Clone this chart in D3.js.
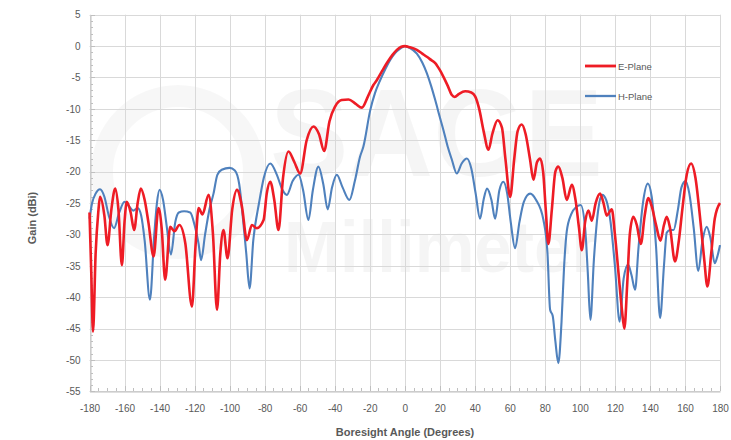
<!DOCTYPE html>
<html>
<head>
<meta charset="utf-8">
<script src="https://cdn.jsdelivr.net/npm/d3@7"></script>
<style>
  html, body { margin: 0; padding: 0; background: #fff; }
  svg { display: block; }
  text { font-family: "Liberation Sans Narrow", "Liberation Sans", Arial, sans-serif; }
</style>
</head>
<body>
<svg id="chart" width="731" height="440"></svg>
<script>
// Antenna gain patterns, E-plane and H-plane (dBi vs boresight angle)
const ePlaneAngle = [-180,-179,-178,-176.5,-175,-174,-171.5,-169.7,-167.5,-165.3,-163.5,-161.5,-160,-158.7,-156.5,-154.5,-152.5,-150.7,-148.5,-146.3,-143.4,-140.6,-138.8,-136.8,-133.9,-131.5,-128.7,-125.3,-121.5,-119.5,-117.7,-115.5,-112,-109.5,-107.2,-105.3,-103.5,-101.2,-98.5,-95.8,-93,-90.1,-87.3,-84.5,-80.6,-78.8,-76.8,-74.5,-72.1,-69.5,-66.4,-63,-59.7,-56,-52.1,-49,-46,-43,-39.7,-36,-32.1,-28,-24.5,-21,-17.9,-15.9,-13,-10.2,-7,-4.5,-2,0,3,6.9,10,12.6,15,17.4,20,22.1,24.5,26.9,28.5,31,34.5,38,40.2,42.5,45,47.8,50,53,55.5,57.5,60.2,62.5,64.5,66.8,69,71.5,73.5,75.5,77.3,79,80.5,82,84,86,87.7,90,92.5,95.4,97.5,99.5,101.1,103,104.9,106.8,109,111.5,113.5,115.3,118.2,120,122,124,125.4,127,128.5,130.5,132.5,134.8,137,139.1,141,143.5,146,148,149.6,151.5,154.3,156.5,158.5,161,163.5,166,168.5,171,172.8,175,177,180];
const ePlaneGain = [-26.5,-36,-45.5,-33,-26.5,-24,-27,-31.7,-26,-22.7,-26,-34.9,-28,-24.8,-26.5,-29.3,-25,-22.7,-24.5,-28.2,-33.5,-25.8,-29,-37.2,-28.8,-29.5,-28.5,-31.4,-41.5,-32,-25.8,-26.8,-23.7,-30,-42,-33,-29.3,-33.8,-26,-22.9,-25.5,-30.9,-28.5,-29,-27.7,-23.5,-21.6,-24.5,-29.3,-21,-16.8,-18.5,-20.3,-15,-12.8,-14,-16.7,-12,-9.6,-8.6,-8.5,-9.2,-9.8,-8,-6.2,-5.4,-4,-2.7,-1.4,-0.6,-0.1,0,-0.2,-0.6,-1.2,-1.7,-2.2,-2.7,-3.8,-4.9,-6.3,-7.8,-8.1,-7.6,-7.2,-7.4,-8,-10,-13.5,-16.5,-14,-11.8,-13,-18,-24,-18,-13.5,-12.5,-14,-18,-21.3,-18.5,-17.9,-20,-26,-31.5,-26,-20,-19.2,-21,-24.5,-22.1,-24.5,-29,-32.5,-28,-26.2,-27.8,-25,-23.5,-25,-27,-26,-30,-36,-42,-45,-38,-30,-27.2,-28.5,-31.5,-27,-24.2,-25.5,-28.5,-31,-28.5,-27.2,-29,-34.3,-31,-26,-20.5,-18.7,-21,-27,-34,-38.3,-33,-27.5,-25];

const hPlaneAngle = [-180,-178.5,-176.5,-174,-171.5,-169,-166,-163,-160,-157.5,-155,-152.5,-150.5,-148.5,-145.5,-143,-141.5,-140,-138,-136,-133.5,-131,-129,-126,-122.5,-120,-117.7,-116.3,-114,-111.5,-109.2,-107,-104.5,-100,-97,-94.5,-92.3,-90.5,-88.6,-86.5,-83.2,-80.5,-76.8,-73,-70,-67.3,-64,-60.6,-58,-55,-52.5,-49.3,-46.5,-44,-41.5,-38.8,-35.5,-31.6,-28.5,-25.5,-23.6,-19.7,-17,-14,-11,-8.3,-5.5,-2.6,0,3,6.9,10,12.6,15,17.4,20,22.1,24.5,26.9,29.7,32.5,35.5,38,40.5,43,45,47,49.5,51.6,54,56.3,58.5,60.5,63,65.5,68,71.6,75,79.2,81.5,83,84.5,86,87.7,89.5,91,92.5,95,98,100.5,103,104.5,106,108,110.5,112.8,115,117.5,120,122.7,125,127.5,129.5,131.5,133.5,136,138.8,141,143.5,145.8,148,149.6,151.5,153.5,156,158,160.3,162.5,165,167.6,170,172.4,174.5,177,178.5,180];
const hPlaneGain = [-27.5,-25,-23.5,-22.8,-24,-27,-29,-26.5,-24.8,-25.5,-26.2,-25.8,-27,-31,-40.4,-30,-25,-22.9,-24.5,-28.5,-33.2,-28,-26.5,-26.3,-26.5,-28.5,-31.5,-34.1,-30,-26,-23.5,-20.5,-19.7,-19.4,-19.8,-22,-27.7,-33,-38.6,-31,-25,-21,-18.7,-20.5,-22.8,-23.7,-21.5,-20.5,-23,-27.7,-23,-19.2,-22,-26,-22.5,-20.5,-22.5,-24.5,-21.5,-17.6,-16,-10.2,-7.5,-5.4,-3.6,-2.2,-1.1,-0.4,0,-0.3,-1.2,-2.6,-4.3,-6.3,-8.6,-11.3,-13.4,-16,-18.1,-20.3,-18.7,-17.9,-19.5,-23.5,-27.5,-24.5,-22.7,-24.5,-27.5,-23,-21.6,-23.5,-28,-32.2,-28,-24.8,-23.5,-24.5,-27.7,-33,-42,-43,-47,-50.5,-44,-35,-29.5,-26.8,-25.6,-25.3,-29,-36,-43.6,-34,-26,-23.7,-24.5,-28,-35,-43.9,-37,-34.8,-36.5,-38.8,-32,-25,-21.9,-24,-32,-43.3,-35,-29.7,-29.3,-29.3,-26,-22.5,-21.5,-23.5,-29,-35.8,-31,-28.8,-30.5,-34.6,-33.5,-31.7];

const xTicks = d3.range(-180, 181, 20);
const yTicks = d3.range(-55, 6, 5);
const seriesNames = ["E-Plane", "H-Plane"];
const seriesColors = ["#ee1c25", "#4f81bd"];

const svg = d3.select("#chart");
const x = d3.scaleLinear().domain([-180, 180]).range([89.5, 720]);
const y = d3.scaleLinear().domain([-55, 5]).range([391.4, 14.7]);

// faint company watermark behind the plot
svg.append("circle").attr("cx", 178).attr("cy", 172).attr("r", 76)
  .attr("fill", "none").attr("stroke", "#000").attr("stroke-opacity", 0.03).attr("stroke-width", 22);
const wmStyle = sel => sel.attr("fill", "#000").attr("fill-opacity", 0.04)
  .style("font-family", "Liberation Sans, Arial, sans-serif").attr("font-weight", "bold");
svg.append("text").call(wmStyle).attr("font-size", 50)
  .attr("transform", "translate(270,176) scale(2.35,2.5)").text("SAGE");
svg.append("text").call(wmStyle).attr("font-size", 40)
  .attr("transform", "translate(284,272) scale(1.68,1.8)").text("Millimeter");

// gridlines
const grid = svg.append("g").attr("stroke", "#d9d9d9").attr("stroke-width", 1);
grid.selectAll(".gh").data(yTicks).join("line")
  .attr("x1", x(-180)).attr("x2", x(180))
  .attr("y1", d => Math.round(y(d)) + 0.5).attr("y2", d => Math.round(y(d)) + 0.5);
grid.selectAll(".gv").data(xTicks).join("line")
  .attr("y1", y(5)).attr("y2", y(-55))
  .attr("x1", d => Math.round(x(d)) + 0.5).attr("x2", d => Math.round(x(d)) + 0.5);

// axes
const fmt = d => String(d);
const xAxis = d3.axisBottom(x).tickValues(xTicks).tickFormat(fmt).tickSize(0).tickPadding(13);
const yAxis = d3.axisLeft(y).tickValues(yTicks).tickFormat(fmt).tickSize(0).tickPadding(10);
const gx = svg.append("g").attr("transform", `translate(0,${Math.round(y(-55)) + 0.5})`).call(xAxis);
const gy = svg.append("g").attr("transform", `translate(${Math.round(x(-180)) + 0.5},0)`).call(yAxis);
[gx, gy].forEach(g => {
  g.select(".domain").attr("stroke", "#bfbfbf");
  g.selectAll("text").attr("fill", "#595959").attr("font-size", 10)
    .style("font-family", "Liberation Sans Narrow, Liberation Sans, Arial, sans-serif");
});

// minor ticks pointing into the plot
const minor = svg.append("g").attr("stroke", "#bfbfbf");
minor.selectAll(".mx").data(d3.range(-180, 181, 5)).join("line")
  .attr("x1", d => Math.round(x(d)) + 0.5).attr("x2", d => Math.round(x(d)) + 0.5)
  .attr("y1", Math.round(y(-55))).attr("y2", d => Math.round(y(-55)) - (d % 20 === 0 ? 5 : 3));
minor.selectAll(".my").data(d3.range(-55, 6, 1)).join("line")
  .attr("y1", d => Math.round(y(d)) + 0.5).attr("y2", d => Math.round(y(d)) + 0.5)
  .attr("x1", Math.round(x(-180)) + 1).attr("x2", d => Math.round(x(-180)) + (d % 5 === 0 ? 5 : 3));

// axis titles
svg.append("text").attr("x", 405).attr("y", 436).attr("text-anchor", "middle")
  .attr("font-size", 11).attr("font-weight", "bold").attr("fill", "#595959")
  .text("Boresight Angle (Degrees)");
svg.append("text").attr("transform", "translate(36,218) rotate(-90)").attr("text-anchor", "middle")
  .attr("font-size", 11).attr("font-weight", "bold").attr("fill", "#595959")
  .text("Gain (dBi)");

// pattern curves
const line = d3.line().x(d => x(d[0])).y(d => y(d[1])).curve(d3.curveMonotoneX);
const series = [
  { name: seriesNames[0], color: seriesColors[0], pts: d3.zip(ePlaneAngle, ePlaneGain), w: 2.6 },
  { name: seriesNames[1], color: seriesColors[1], pts: d3.zip(hPlaneAngle, hPlaneGain), w: 2.1 }
];
// blue drawn first so the red lies on top
[series[1], series[0]].forEach(s => {
  svg.append("path").datum(s.pts).attr("d", line)
    .attr("fill", "none").attr("stroke", s.color).attr("stroke-width", s.w).attr("stroke-linejoin", "round");
});

// legend
const legend = svg.append("g").selectAll("g").data(series).join("g")
  .attr("transform", (d, i) => `translate(585,${66 + i * 30})`);
legend.append("line").attr("x1", 0).attr("x2", 31).attr("y1", 0).attr("y2", 0)
  .attr("stroke", d => d.color).attr("stroke-width", d => d.w + 0.2);
legend.append("text").attr("x", 33).attr("y", 3.5).attr("font-size", 9.5).attr("fill", "#595959")
  .text(d => d.name);
</script>
</body>
</html>
